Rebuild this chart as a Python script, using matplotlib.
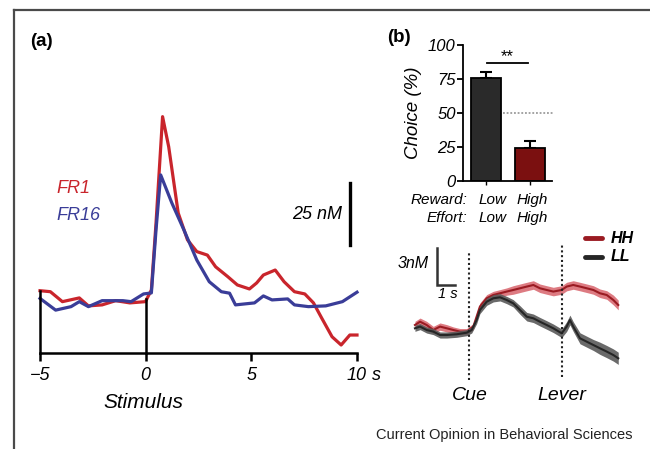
import matplotlib
matplotlib.use("Agg")
import matplotlib.pyplot as plt
from matplotlib.lines import Line2D
import matplotlib.transforms as mtransforms

plt.rcParams['font.family'] = ['Liberation Sans', 'DejaVu Sans']

W, H = 650, 449

# ---------------- data: panel (a) ----------------
fr1_t = [-5.0, -4.51, -3.94, -3.14, -2.71, -2.06, -1.42, -0.75, -0.01, 0.27, 0.49, 0.80,
         1.09, 1.54, 1.98, 2.42, 2.92, 3.31, 3.89, 4.34, 4.91, 5.25, 5.57, 6.13, 6.55,
         7.04, 7.53, 7.94, 8.33, 8.82, 9.25, 9.66, 10.0]
fr1_v = [24.9, 24.5, 20.5, 22.0, 18.8, 19.2, 20.9, 20.0, 20.5, 25.2, 52.1, 94.8,
         82.7, 56.1, 45.3, 40.6, 39.2, 34.5, 30.5, 27.2, 25.6, 28.0, 31.2, 33.2, 28.5,
         24.5, 23.6, 20.0, 13.9, 6.4, 3.1, 7.1, 7.1]
fr16_t = [-5.0, -4.26, -3.53, -3.14, -2.71, -2.06, -1.08, -0.69, -0.10, 0.27, 0.49, 0.71,
          1.24, 1.81, 2.42, 3.01, 3.58, 3.97, 4.25, 5.15, 5.57, 5.98, 6.72, 7.04, 7.70,
          8.52, 9.31, 10.0]
fr16_v = [21.8, 17.1, 18.5, 20.5, 18.5, 20.9, 20.9, 20.5, 23.6, 24.0, 49.3, 71.4,
          60.1, 49.3, 37.2, 28.5, 24.5, 23.9, 19.2, 20.0, 22.8, 21.2, 21.6, 19.2, 18.5,
          18.8, 20.5, 24.3]
a_ticks = [-5, 0, 5, 10]
a_ticklabels = ['\u22125', '0', '5', '10']

# ---------------- data: panel (b) bars ----------------
bar_cats = ['Low', 'High']
bar_effort = ['Low', 'High']
bar_vals = [75.5, 24.0]
bar_errs = [4.9, 5.4]
b_yticks = [0, 25, 50, 75, 100]

# ---------------- data: panel (b) traces ----------------
ll_t = [-2.97, -2.69, -2.33, -1.97, -1.60, -1.23, -0.69, -0.14, 0.13, 0.40, 0.58, 0.95,
        1.31, 1.68, 2.04, 2.40, 2.77, 3.14, 3.50, 3.86, 4.23, 4.59, 5.05, 5.32, 5.50,
        5.68, 6.05, 6.42, 6.78, 7.14, 7.51, 7.87, 8.14]
ll_v = [0.41, 0.55, 0.27, 0.14, -0.14, -0.14, -0.08, 0.05, 0.27, 1.09, 1.91, 2.59,
        2.87, 2.95, 2.73, 2.46, 1.91, 1.36, 1.23, 0.95, 0.68, 0.41, 0.0, 0.55, 1.09,
        0.55, -0.41, -0.69, -0.96, -1.23, -1.50, -1.78, -2.05]
ll_sem = [0.25, 0.25, 0.25, 0.25, 0.25, 0.25, 0.25, 0.25, 0.25, 0.3, 0.3, 0.3,
          0.3, 0.3, 0.3, 0.3, 0.35, 0.35, 0.35, 0.35, 0.35, 0.35, 0.35, 0.4, 0.4,
          0.4, 0.45, 0.45, 0.45, 0.5, 0.5, 0.5, 0.5]
hh_t = [-2.97, -2.69, -2.33, -1.97, -1.60, -1.23, -0.87, -0.51, -0.14, 0.22, 0.58, 0.95,
        1.31, 1.68, 2.04, 2.40, 2.77, 3.14, 3.50, 3.86, 4.23, 4.59, 5.05, 5.32, 5.68,
        6.05, 6.42, 6.78, 7.14, 7.51, 7.87, 8.14]
hh_v = [0.68, 0.95, 0.68, 0.27, 0.55, 0.41, 0.27, 0.14, 0.14, 0.55, 2.19, 2.87,
        3.14, 3.28, 3.42, 3.55, 3.69, 3.83, 3.96, 3.69, 3.55, 3.42, 3.55, 3.83, 3.96,
        3.83, 3.69, 3.55, 3.28, 3.14, 2.73, 2.32]
hh_sem = [0.3, 0.3, 0.3, 0.3, 0.3, 0.3, 0.25, 0.25, 0.25, 0.25, 0.3, 0.3,
          0.3, 0.3, 0.3, 0.35, 0.35, 0.35, 0.35, 0.35, 0.35, 0.35, 0.35, 0.35, 0.35,
          0.35, 0.35, 0.35, 0.35, 0.35, 0.4, 0.4]

RED_A = '#c9252c'
BLUE_A = '#3a3d98'
HH_LINE = '#9a1b22'
HH_FILL = '#d8646c'
LL_LINE = '#262626'
LL_FILL = '#5a5a5a'

fig = plt.figure(figsize=(W / 100, H / 100), dpi=100)


def px_axes(left, top, right, bottom):
    return fig.add_axes([left / W, (H - bottom) / H, (right - left) / W, (bottom - top) / H])


# frame
fig.add_artist(Line2D([14 / W, 1.0], [(H - 10) / H] * 2, color='#4a4a4a', lw=1.6,
                      transform=fig.transFigure))
fig.add_artist(Line2D([14 / W] * 2, [(H - 10) / H, 0], color='#4a4a4a', lw=1.6,
                      transform=fig.transFigure))

# ================= panel (a) =================
y0a = 352.7
pxnM = 2.49
axa = px_axes(40, y0a - 101.5 * pxnM, 357, y0a)
axa.set_xlim(-5, 10)
axa.set_ylim(0, 101.5)
for s in ['top', 'right', 'left']:
    axa.spines[s].set_visible(False)
axa.spines['bottom'].set_linewidth(1.8)
axa.set_yticks([])
axa.set_xticks(a_ticks)
axa.set_xticklabels(a_ticklabels, fontstyle='italic', fontsize=13)
axa.tick_params(axis='x', length=6, width=1.8, pad=4)
axa.patch.set_visible(False)

axa.plot(fr1_t, fr1_v, color=RED_A, lw=2.3, solid_joinstyle='round', clip_on=False)
axa.plot(fr16_t, fr16_v, color=BLUE_A, lw=2.3, solid_joinstyle='round', clip_on=False)
axa.plot([-5, -5], [0, fr1_v[0]], color='black', lw=1.8, clip_on=False)
axa.plot([0, 0], [0, 21.6], color='black', lw=1.8, clip_on=False)
# scale bar
axa.plot([9.66, 9.66], [43.2, 68.3], color='black', lw=2.4, clip_on=False)
axa.text(9.3, 55.5, '25 nM', ha='right', va='center', fontsize=13, fontstyle='italic')
axa.text(10.7, 0, 's', ha='left', va='top', fontsize=13, fontstyle='italic', clip_on=False,
         transform=mtransforms.offset_copy(axa.transData, fig=fig, x=0, y=-10, units='points'))
axa.text(-4.2, 66.0, 'FR1', color=RED_A, fontsize=13, fontstyle='italic', va='center')
axa.text(-4.2, 55.0, 'FR16', color=BLUE_A, fontsize=13, fontstyle='italic', va='center')
axa.text(-0.1, -20.0, 'Stimulus', ha='center', va='center', fontsize=15, fontstyle='italic')
fig.text(30 / W, (H - 41) / H, '(a)', fontsize=13.5, fontweight='bold', va='center')

# ================= panel (b) bars =================
axb = px_axes(463.3, 45, 552, 181)
axb.set_xlim(-0.52, 1.5)
axb.set_ylim(0, 100)
axb.spines['top'].set_visible(False)
axb.spines['right'].set_visible(False)
axb.spines['left'].set_linewidth(1.3)
axb.spines['bottom'].set_linewidth(1.3)
axb.patch.set_visible(False)
xb = [0, 1]
axb.bar(xb, bar_vals, width=0.68, color=['#2a2a2a', '#7b1010'], edgecolor='black', lw=1.3,
        zorder=2)
axb.errorbar(xb, bar_vals, yerr=[[0, 0], bar_errs], fmt='none', ecolor='black', elinewidth=1.5,
             capsize=4, capthick=1.5, zorder=1)
axb.plot([0.39, 1.52], [50, 50], color='#8a8a8a', lw=1.1, ls=(0, (1.2, 1.2)), clip_on=False)
axb.plot([0.02, 0.95], [86.5, 86.5], color='black', lw=1.3, clip_on=False)
axb.text(0.47, 86.0, '**', ha='center', va='bottom', fontsize=12)
axb.set_yticks(b_yticks)
axb.set_yticklabels([str(v) for v in b_yticks], fontstyle='italic', fontsize=12)
axb.tick_params(axis='y', length=4, width=1.3, pad=1.5)
axb.set_xticks(xb)
axb.set_xticklabels(['', ''])
axb.tick_params(axis='x', length=3, width=1.0)
axb.set_ylabel('Choice (%)', fontsize=13.5, fontstyle='italic', labelpad=4)
trb = mtransforms.blended_transform_factory(axb.transData, fig.transFigure)
yr = (H - 200) / H
ye = (H - 218) / H
fig.text(467 / W, yr, 'Reward:', ha='right', va='center', fontsize=11, fontstyle='italic')
fig.text(467 / W, ye, 'Effort:', ha='right', va='center', fontsize=11, fontstyle='italic')
for x, r, e in zip([0.15, 1.06], bar_cats, bar_effort):
    axb.text(x, yr, r, ha='center', va='center', fontsize=11, fontstyle='italic', transform=trb)
    axb.text(x, ye, e, ha='center', va='center', fontsize=11, fontstyle='italic', transform=trb)
fig.text(387 / W, (H - 37) / H, '(b)', fontsize=13.5, fontweight='bold', va='center')

# ================= panel (b) traces =================
t0px = 469.3
spx = 18.3
ybase = 333.3
npx = 12.2
tl, tr = -3.2, 8.5
vt, vb = 8.47, -4.24
axc = px_axes(t0px + tl * spx, ybase - vt * npx, t0px + tr * spx, ybase - vb * npx)
axc.set_xlim(tl, tr)
axc.set_ylim(vb, vt)
axc.axis('off')

hh_lo = [v - s for v, s in zip(hh_v, hh_sem)]
hh_hi = [v + s for v, s in zip(hh_v, hh_sem)]
ll_lo = [v - s for v, s in zip(ll_v, ll_sem)]
ll_hi = [v + s for v, s in zip(ll_v, ll_sem)]
axc.fill_between(hh_t, hh_lo, hh_hi, color=HH_FILL, alpha=0.85, lw=0, zorder=1)
axc.plot(hh_t, hh_v, color=HH_LINE, lw=1.5, zorder=2)
axc.fill_between(ll_t, ll_lo, ll_hi, color=LL_FILL, alpha=0.9, lw=0, zorder=3)
axc.plot(ll_t, ll_v, color=LL_LINE, lw=1.5, zorder=4)

axc.plot([0, 0], [-3.83, 6.6], color='#222222', lw=1.5, ls=(0, (1, 1.3)), zorder=5, clip_on=False)
axc.plot([5.05, 5.05], [-3.58, 7.24], color='#222222', lw=1.5, ls=(0, (1, 1.3)), zorder=5,
         clip_on=False)
# scale bar
axc.plot([-1.78, -1.78, -0.78], [7.0, 3.96, 3.96], color='#333333', lw=1.8,
         solid_joinstyle='miter', clip_on=False)
axc.text(-2.22, 5.76, '3nM', ha='right', va='center', fontsize=11.5, fontstyle='italic')
axc.text(-1.2, 3.78, '1 s', ha='center', va='top', fontsize=10.5, fontstyle='italic')
# legend
axc.plot([6.32, 7.26], [7.8, 7.8], color=HH_LINE, lw=3.5, solid_capstyle='round', clip_on=False)
axc.plot([6.32, 7.26], [6.26, 6.26], color=LL_LINE, lw=3.5, solid_capstyle='round', clip_on=False)
axc.text(7.75, 7.8, 'HH', ha='left', va='center', fontsize=11.5, fontstyle='italic',
         fontweight='bold', clip_on=False)
axc.text(7.75, 6.26, 'LL', ha='left', va='center', fontsize=11.5, fontstyle='italic',
         fontweight='bold', clip_on=False)
axc.text(0.04, -5.07, 'Cue', ha='center', va='center', fontsize=14, fontstyle='italic',
         clip_on=False)
axc.text(5.07, -5.07, 'Lever', ha='center', va='center', fontsize=14, fontstyle='italic',
         clip_on=False)

fig.text(633 / W, (H - 435) / H, 'Current Opinion in Behavioral Sciences', ha='right',
         va='center', fontsize=10.5, color='#222222')

fig.savefig('out.png', dpi=100)
